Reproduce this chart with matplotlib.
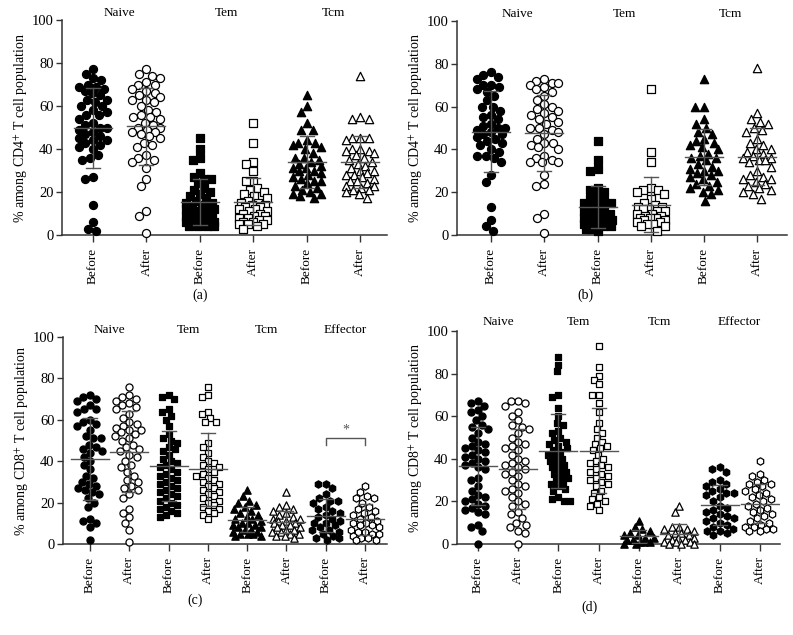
import numpy as np
import matplotlib
matplotlib.use('Agg')
import matplotlib.pyplot as plt

plt.rcParams['font.family'] = ['Liberation Serif', 'DejaVu Serif']
plt.rcParams['mathtext.fontset'] = 'stix'

conditions = ['Before', 'After']
subsets_cd4 = ['Naive', 'Tem', 'Tcm']
subsets_cd8 = ['Naive', 'Tem', 'Tcm', 'Effector']

# ---------------- Panel (a): CD4+ ----------------
a_naive_before = [77, 75, 73, 72, 70, 69, 69, 68, 67, 66, 65, 63, 63, 62, 60, 60, 58, 57, 56, 56,
                  54, 52, 51, 50, 50, 49, 48, 47, 46, 45, 44, 44, 43, 42, 41, 40, 37, 36, 35, 27,
                  26, 14, 6, 3, 2]
a_naive_after = [77, 75, 74, 73, 71, 70, 70, 68, 67, 66, 65, 64, 63, 63, 62, 60, 58, 57, 56, 55,
                 55, 54, 52, 51, 50, 50, 49, 48, 48, 47, 46, 45, 43, 42, 41, 37, 36, 35, 34, 31,
                 26, 23, 11, 9, 1]
a_tem_before = [45, 40, 36, 35, 29, 27, 26, 26, 24, 22, 21, 20, 19, 18, 17, 16, 15, 15, 14, 13,
                13, 12, 12, 11, 10, 10, 9, 9, 8, 8, 7, 7, 6, 6, 6, 5, 5, 5, 4, 4, 4, 4]
a_tem_after = [52, 43, 34, 33, 30, 25, 25, 22, 21, 20, 19, 18, 17, 16, 15, 15, 14, 14, 13, 13,
               12, 12, 11, 11, 10, 10, 9, 9, 8, 8, 7, 7, 6, 6, 5, 5, 5, 4, 3]
a_tcm_before = [65, 60, 57, 52, 49, 49, 44, 43, 43, 42, 41, 40, 38, 36, 36, 35, 34, 33, 32, 31,
                31, 30, 30, 29, 28, 27, 26, 25, 25, 24, 23, 22, 21, 20, 19, 19, 18, 17]
a_tcm_after = [74, 55, 54, 54, 45, 45, 45, 44, 40, 40, 39, 39, 38, 37, 36, 35, 34, 33, 32, 31,
               30, 30, 29, 28, 28, 27, 26, 25, 25, 24, 23, 23, 22, 21, 21, 20, 19, 17]

# ---------------- Panel (b): CD4+ ----------------
b_naive_before = [76, 75, 74, 73, 70, 70, 69, 68, 67, 65, 63, 60, 60, 58, 56, 55, 54, 52, 51, 50,
                  50, 49, 48, 47, 47, 46, 45, 44, 43, 42, 40, 39, 37, 37, 36, 34, 28, 25, 13, 7,
                  4, 2]
b_naive_after = [73, 72, 71, 71, 70, 69, 68, 67, 65, 63, 61, 60, 59, 58, 57, 56, 55, 54, 53, 52,
                 50, 50, 49, 48, 47, 45, 43, 43, 42, 41, 40, 37, 36, 35, 34, 34, 34, 28, 24, 23,
                 10, 8, 1]
b_tem_before = [44, 35, 31, 30, 22, 21, 20, 18, 17, 16, 15, 15, 14, 13, 12, 11, 10, 10, 9, 9,
                8, 8, 7, 7, 6, 6, 6, 5, 5, 4, 4, 3, 3, 2]
b_tem_after = [68, 39, 34, 22, 21, 21, 20, 19, 17, 15, 14, 13, 13, 12, 12, 11, 11, 10, 10, 9,
               9, 8, 8, 8, 7, 7, 6, 6, 5, 5, 4, 4, 2]
b_tcm_before = [73, 60, 60, 54, 52, 50, 48, 47, 45, 44, 43, 42, 41, 40, 38, 37, 36, 36, 35, 33,
                32, 31, 30, 30, 29, 28, 27, 26, 25, 24, 23, 22, 21, 20, 19, 16]
b_tcm_after = [78, 57, 54, 53, 52, 50, 49, 48, 45, 43, 42, 40, 40, 39, 38, 37, 36, 36, 35, 35,
               34, 32, 30, 28, 27, 26, 26, 25, 24, 23, 22, 21, 20, 19, 17]

# ---------------- Panel (c): CD8+ ----------------
c_naive_before = [72, 71, 70, 69, 67, 65, 65, 64, 60, 59, 58, 57, 55, 52, 51, 51, 48, 47, 46, 45,
                  44, 42, 40, 38, 36, 33, 32, 30, 29, 28, 27, 26, 25, 24, 22, 20, 18, 12, 11, 10,
                  8, 2]
c_naive_after = [76, 72, 71, 70, 69, 68, 67, 66, 65, 63, 61, 59, 58, 57, 56, 55, 55, 54, 53, 52,
                 51, 50, 48, 47, 46, 45, 43, 42, 40, 38, 37, 35, 33, 31, 30, 28, 27, 26, 24, 22,
                 17, 15, 13, 10, 7, 1]
c_tem_before = [72, 71, 70, 65, 64, 62, 60, 57, 53, 51, 50, 49, 47, 46, 45, 43, 41, 40, 39, 38,
                37, 36, 35, 34, 33, 32, 31, 30, 29, 28, 27, 26, 25, 24, 23, 22, 21, 20, 19, 18,
                17, 16, 15, 14, 13]
c_tem_after = [76, 72, 71, 64, 63, 61, 59, 59, 49, 47, 44, 42, 40, 39, 38, 37, 36, 35, 34, 33,
               32, 31, 30, 29, 28, 27, 26, 25, 24, 23, 22, 21, 20, 19, 18, 17, 16, 15, 14, 12]
c_tcm_before = [26, 23, 21, 20, 19, 18, 17, 16, 15, 14, 13, 12, 12, 11, 10, 10, 9, 9, 8, 8,
                7, 7, 6, 6, 5, 5, 5, 4, 4]
c_tcm_after = [25, 19, 18, 17, 16, 15, 14, 13, 12, 12, 11, 11, 10, 10, 9, 9, 8, 8, 7, 7,
               6, 6, 5, 5, 4, 4, 3]
c_eff_before = [29, 29, 27, 24, 22, 21, 21, 20, 18, 17, 16, 15, 14, 13, 12, 11, 10, 10, 9, 8,
                7, 7, 6, 5, 4, 3, 3, 2]
c_eff_after = [28, 25, 23, 22, 22, 20, 18, 17, 16, 15, 14, 13, 12, 11, 10, 10, 9, 9, 8, 7,
               6, 6, 5, 5, 4, 3, 3, 2, 2]

# ---------------- Panel (d): CD8+ ----------------
d_naive_before = [67, 66, 65, 63, 62, 60, 58, 56, 55, 54, 52, 50, 48, 47, 46, 45, 44, 43, 42, 41,
                  40, 39, 38, 37, 36, 35, 31, 30, 27, 25, 23, 22, 21, 20, 19, 18, 17, 16, 15, 14,
                  9, 8, 6, 0]
d_naive_after = [67, 67, 66, 65, 62, 60, 58, 56, 55, 54, 52, 50, 48, 47, 46, 45, 44, 42, 40, 39,
                 38, 37, 36, 35, 34, 33, 32, 30, 28, 27, 26, 25, 24, 22, 20, 19, 18, 15, 14, 12,
                 10, 9, 8, 6, 5, 0]
d_tem_before = [88, 84, 81, 70, 69, 64, 60, 57, 56, 53, 52, 50, 49, 48, 47, 46, 45, 44, 43, 42,
                41, 40, 39, 38, 37, 36, 35, 34, 33, 32, 31, 30, 29, 28, 27, 26, 25, 22, 21, 20,
                20]
d_tem_after = [93, 83, 79, 77, 75, 70, 70, 66, 62, 57, 54, 52, 50, 48, 47, 46, 45, 44, 42, 40,
               39, 38, 37, 36, 35, 34, 33, 32, 31, 30, 29, 28, 27, 25, 24, 22, 21, 20, 19, 18,
               16]
d_tcm_before = [11, 8, 7, 6, 5, 4, 4, 3, 3, 2, 2, 1, 1, 1, 0, 0]
d_tcm_after = [18, 15, 8, 8, 7, 7, 6, 5, 5, 4, 4, 3, 3, 2, 2, 1, 1, 1, 0, 0, 0]
d_eff_before = [36, 35, 34, 30, 29, 28, 27, 26, 25, 24, 24, 23, 22, 20, 18, 17, 16, 15, 14, 13,
                12, 12, 11, 10, 9, 8, 7, 6, 6, 5, 4]
d_eff_after = [39, 33, 32, 30, 29, 28, 28, 27, 26, 25, 24, 23, 22, 21, 20, 19, 18, 17, 16, 15,
               14, 13, 12, 11, 10, 9, 8, 8, 7, 7, 6, 6]

MARK = {'Naive': 'o', 'Tem': 's', 'Tcm': '^', 'Effector': 'h'}
MPT = {'Naive': 5.8, 'Tem': 5.2, 'Tcm': 6.0, 'Effector': 6.0}   # marker size in points
W, H = 793, 635

panels = [
    dict(rect=(62, 20, 387, 235), xlim=(-0.58, 5.5), subsets=subsets_cd4, cell='CD4',
         data=[a_naive_before, a_naive_after, a_tem_before, a_tem_after, a_tcm_before, a_tcm_after],
         tag='(a)', tagpos=(200, 295), bracket=None, scale=1.0, ty=103.4, maxw=14),
    dict(rect=(457, 21, 787, 235), xlim=(-0.64, 5.56), subsets=subsets_cd4, cell='CD4',
         data=[b_naive_before, b_naive_after, b_tem_before, b_tem_after, b_tcm_before, b_tcm_after],
         tag='(b)', tagpos=(585, 295), bracket=None, scale=1.0, ty=103.4, maxw=14),
    dict(rect=(63, 337, 387, 544), xlim=(-0.69, 7.56), subsets=subsets_cd8, cell='CD8',
         data=[c_naive_before, c_naive_after, c_tem_before, c_tem_after, c_tcm_before, c_tcm_after,
               c_eff_before, c_eff_after],
         tag='(c)', tagpos=(195, 600), bracket=(6, 7, 51.2, 47.8), scale=0.88, ty=103.6, maxw=14),
    dict(rect=(457, 331, 780, 544), xlim=(-0.52, 7.5), subsets=subsets_cd8, cell='CD8',
         data=[d_naive_before, d_naive_after, d_tem_before, d_tem_after, d_tcm_before, d_tcm_after,
               d_eff_before, d_eff_after],
         tag='(d)', tagpos=(590, 607), bracket=None, scale=0.88, ty=104.3, maxw=15),
]

fig = plt.figure(figsize=(W / 100, H / 100), dpi=100)


def swarm(ax, xc, values, dmin, maxw):
    """Beeswarm offsets (computed in pixel space), limited to +-maxw pixels."""
    vals = np.asarray(values, float)
    pts = ax.transData.transform(np.column_stack([np.full(len(vals), xc), vals]))
    ypx = pts[:, 1]
    x0 = pts[0, 0]
    order = np.argsort(-ypx, kind='stable')
    placed = []
    offs = np.zeros(len(vals))
    grid = np.linspace(-maxw, maxw, 29)
    for i in order:
        y = ypx[i]
        cands = [0.0]
        for (px, py) in placed:
            dy = y - py
            if abs(dy) < dmin:
                dx = np.sqrt(dmin ** 2 - dy ** 2)
                cands += [px + dx, px - dx]
        cands = sorted(set(cands), key=lambda c: (abs(c), c))
        chosen = None
        for c in cands:
            if abs(c) > maxw:
                break
            if all((c - px) ** 2 + (y - py) ** 2 >= dmin ** 2 - 1e-6 for px, py in placed):
                chosen = c
                break
        if chosen is None:
            best, bestd = 0.0, -1
            for c in grid:
                d = min(((c - px) ** 2 + (y - py) ** 2) for px, py in placed)
                if d > bestd + 1e-9:
                    best, bestd = c, d
            chosen = best
        placed.append((chosen, y))
        offs[i] = chosen
    back = ax.transData.inverted().transform(np.column_stack([x0 + offs, ypx]))
    return back[:, 0]


GREY = '#555555'
for p in panels:
    x0, y0, x1, y1 = p['rect']
    ax = fig.add_axes([x0 / W, 1 - y1 / H, (x1 - x0) / W, (y1 - y0) / H])
    ax.set_xlim(*p['xlim'])
    ax.set_ylim(0, 100)
    ncat = len(p['data'])
    unit_px = (x1 - x0) / (p['xlim'][1] - p['xlim'][0])
    for k, vals in enumerate(p['data']):
        sub = p['subsets'][k // 2]
        filled = (k % 2 == 0)
        m = MARK[sub]
        pt = MPT[sub] * p['scale']
        diam_px = pt * 100 / 72
        xs = swarm(ax, k, vals, diam_px * 1.05, p['maxw'])
        ax.scatter(xs, vals, s=pt ** 2, marker=m,
                   facecolors='black' if filled else 'white',
                   edgecolors='black', linewidths=0.9, zorder=3, clip_on=False)
        mu = np.mean(vals)
        sd = np.std(vals, ddof=1)
        hw = 19 / unit_px
        cw = 7 / unit_px
        ax.plot([k - hw, k + hw], [mu, mu], color=GREY, lw=1.0, zorder=4)
        ax.plot([k, k], [max(mu - sd, 0), mu + sd], color=GREY, lw=1.0, zorder=4)
        ax.plot([k - cw, k + cw], [mu + sd, mu + sd], color=GREY, lw=1.0, zorder=4)
        if mu - sd > 0:
            ax.plot([k - cw, k + cw], [mu - sd, mu - sd], color=GREY, lw=1.0, zorder=4)
    for j, sub in enumerate(p['subsets']):
        ax.text(2 * j + 0.5, p['ty'], sub, ha='center', va='center', fontsize=9.5)
    ax.set_xticks(range(ncat))
    ax.set_xticklabels([conditions[k % 2] for k in range(ncat)], rotation=90, fontsize=9.5)
    ax.set_yticks([0, 20, 40, 60, 80, 100])
    ax.tick_params(axis='y', labelsize=10.5, length=4, width=1, color='#333333', pad=2)
    ax.tick_params(axis='x', length=5, width=1, color='#333333', pad=4)
    for s in ['top', 'right']:
        ax.spines[s].set_visible(False)
    for s in ['left', 'bottom']:
        ax.spines[s].set_color('#333333')
        ax.spines[s].set_linewidth(1.1)
    ax.set_ylabel('% among ' + p['cell'] + '$^{+}$ T cell population', fontsize=10, labelpad=1)
    if p['bracket']:
        bx0, bx1, top, bot = p['bracket']
        ax.plot([bx0, bx0, bx1, bx1], [bot, top, top, bot], color=GREY, lw=1.0)
        ax.text((bx0 + bx1) / 2, top + 0.8, '*', ha='center', va='bottom', fontsize=10, color=GREY)
    fig.text(p['tagpos'][0] / W, 1 - p['tagpos'][1] / H, p['tag'], ha='center', va='center',
             fontsize=10)

fig.savefig('out.png', dpi=100)
